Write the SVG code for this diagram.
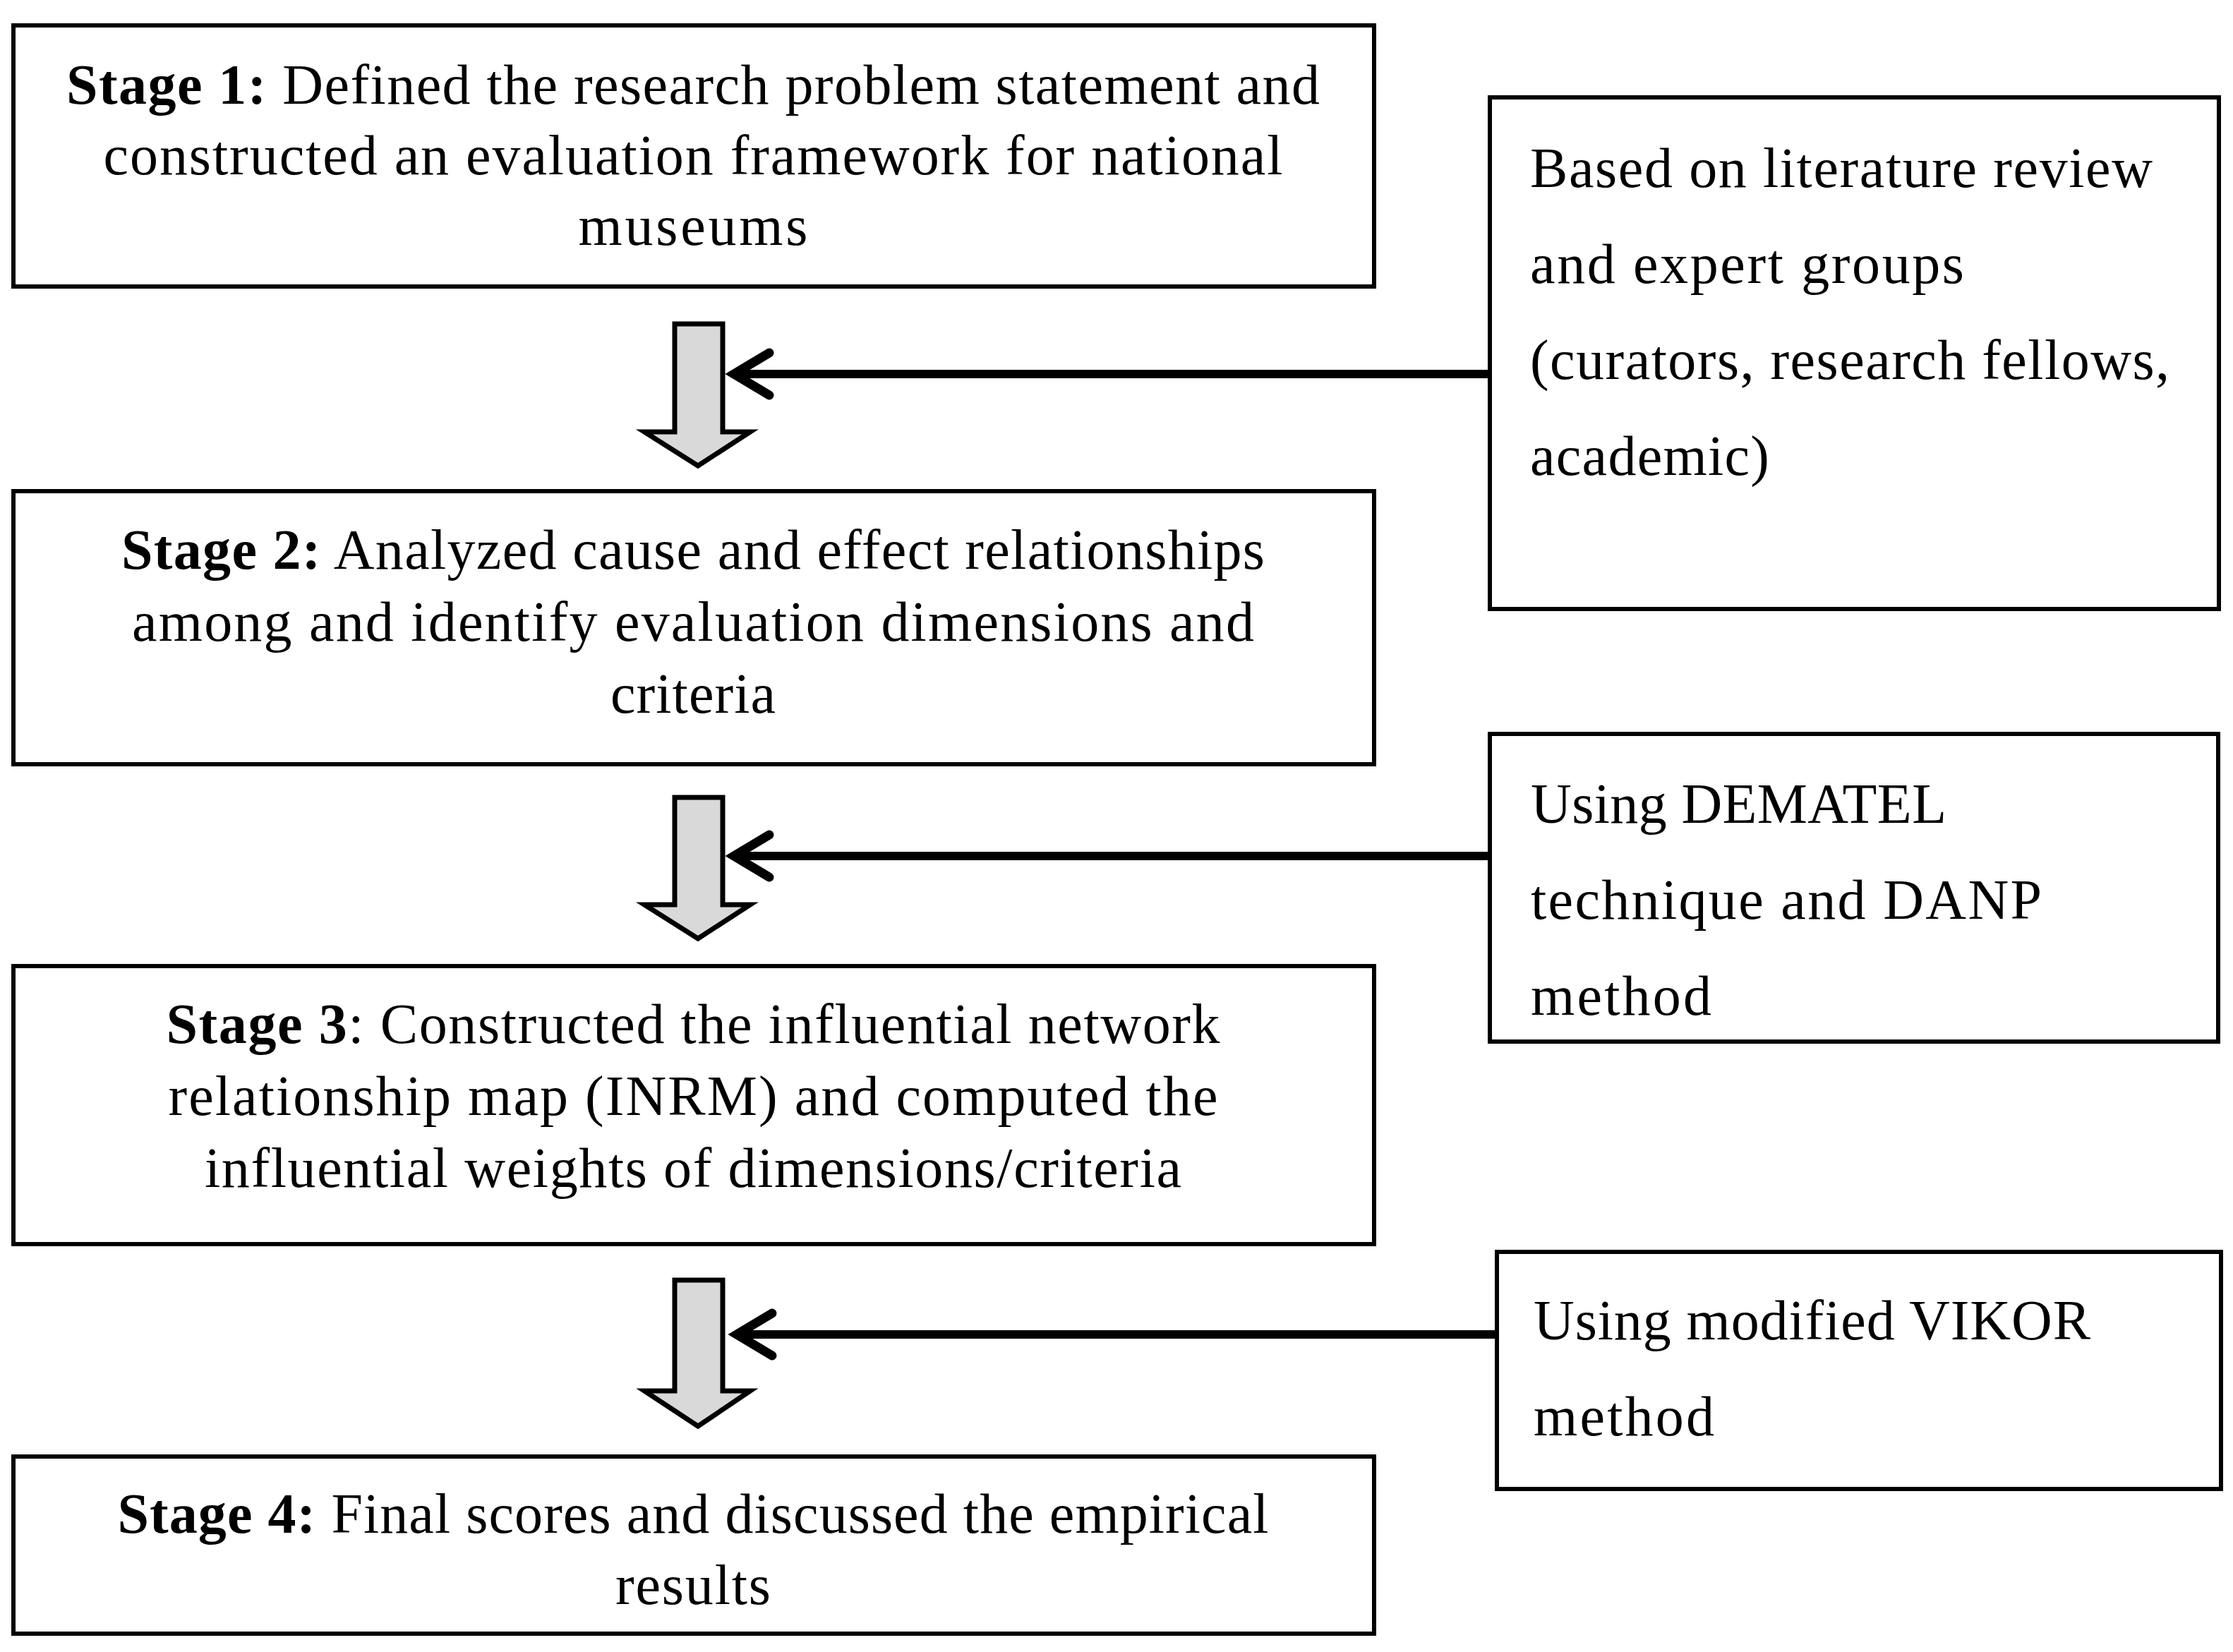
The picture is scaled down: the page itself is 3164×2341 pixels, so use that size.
<svg xmlns="http://www.w3.org/2000/svg" width="3164" height="2341" viewBox="0 0 3164 2341">
<style>
.box{fill:#fff;stroke:#000;stroke-width:6}
.t{font-family:"Liberation Serif","Times New Roman",serif;font-size:80px;fill:#000}
.c{text-anchor:middle}
.b{font-weight:bold}
.blk{fill:#d9d9d9;stroke:#000;stroke-width:7;stroke-linejoin:miter}
.ln{fill:none;stroke:#000;stroke-width:12}
.chev{fill:none;stroke:#000;stroke-width:13;stroke-linecap:round;stroke-linejoin:miter}
</style>
<rect width="3164" height="2341" fill="#fff"/>
<g id="stage1">
<rect class="box" x="19" y="36" width="1928" height="370"/>
<text class="t c" x="982" y="147" textLength="1776" lengthAdjust="spacing"><tspan class="b">Stage 1:</tspan> Defined the research problem statement and</text>
<text class="t c" x="982" y="247" textLength="1671" lengthAdjust="spacing">constructed an evaluation framework for national</text>
<text class="t c" x="982" y="347" textLength="325" lengthAdjust="spacing">museums</text>
</g>
<g id="stage2">
<rect class="box" x="19" y="696" width="1928" height="387"/>
<text class="t c" x="982" y="806" textLength="1620" lengthAdjust="spacing"><tspan class="b">Stage 2:</tspan> Analyzed cause and effect relationships</text>
<text class="t c" x="982" y="908" textLength="1590" lengthAdjust="spacing">among and identify evaluation dimensions and</text>
<text class="t c" x="982" y="1010" textLength="234" lengthAdjust="spacing">criteria</text>
</g>
<g id="stage3">
<rect class="box" x="19" y="1369" width="1928" height="394"/>
<text class="t c" x="982" y="1478" textLength="1493" lengthAdjust="spacing"><tspan class="b">Stage 3</tspan>: Constructed the influential network</text>
<text class="t c" x="982" y="1580" textLength="1487" lengthAdjust="spacing">relationship map (INRM) and computed the</text>
<text class="t c" x="982" y="1682" textLength="1384" lengthAdjust="spacing">influential weights of dimensions/criteria</text>
</g>
<g id="stage4">
<rect class="box" x="19" y="2064" width="1928" height="251"/>
<text class="t c" x="982" y="2172" textLength="1631" lengthAdjust="spacing"><tspan class="b">Stage 4:</tspan> Final scores and discussed the empirical</text>
<text class="t c" x="982" y="2273" textLength="220" lengthAdjust="spacing">results</text>
</g>
<g id="source1">
<rect class="box" x="2111" y="138" width="1033" height="725"/>
<text class="t" x="2168" y="265" textLength="882" lengthAdjust="spacing">Based on literature review</text>
<text class="t" x="2168" y="401" textLength="615" lengthAdjust="spacing">and expert groups</text>
<text class="t" x="2168" y="537" textLength="906" lengthAdjust="spacing">(curators, research fellows,</text>
<text class="t" x="2168" y="673" textLength="339" lengthAdjust="spacing">academic)</text>
</g>
<g id="source2">
<rect class="box" x="2111" y="1040" width="1032" height="436"/>
<text class="t" x="2169" y="1166" textLength="589" lengthAdjust="spacing">Using DEMATEL</text>
<text class="t" x="2169" y="1302" textLength="724" lengthAdjust="spacing">technique and DANP</text>
<text class="t" x="2169" y="1438" textLength="256" lengthAdjust="spacing">method</text>
</g>
<g id="source3">
<rect class="box" x="2121" y="1774" width="1026" height="336"/>
<text class="t" x="2173" y="1898" textLength="789" lengthAdjust="spacing">Using modified VIKOR</text>
<text class="t" x="2173" y="2034" textLength="256" lengthAdjust="spacing">method</text>
</g>
<g id="connectors">
<polygon class="blk" points="956,459 1024,459 1024,612 1063,612 989,660 913,612 956,612"/>
<polygon class="blk" points="956,1130 1024,1130 1024,1282 1063,1282 989,1330 913,1282 956,1282"/>
<polygon class="blk" points="956,1814 1024,1814 1024,1971 1063,1971 989,2021 913,1971 956,1971"/>
<line class="ln" x1="1044" y1="530" x2="2111" y2="530"/>
<polyline class="chev" points="1090,500 1040,530 1090,560"/>
<line class="ln" x1="1044" y1="1213" x2="2111" y2="1213"/>
<polyline class="chev" points="1090,1183 1040,1213 1090,1243"/>
<line class="ln" x1="1048" y1="1891" x2="2121" y2="1891"/>
<polyline class="chev" points="1094,1861 1044,1891 1094,1921"/>
</g>
</svg>
